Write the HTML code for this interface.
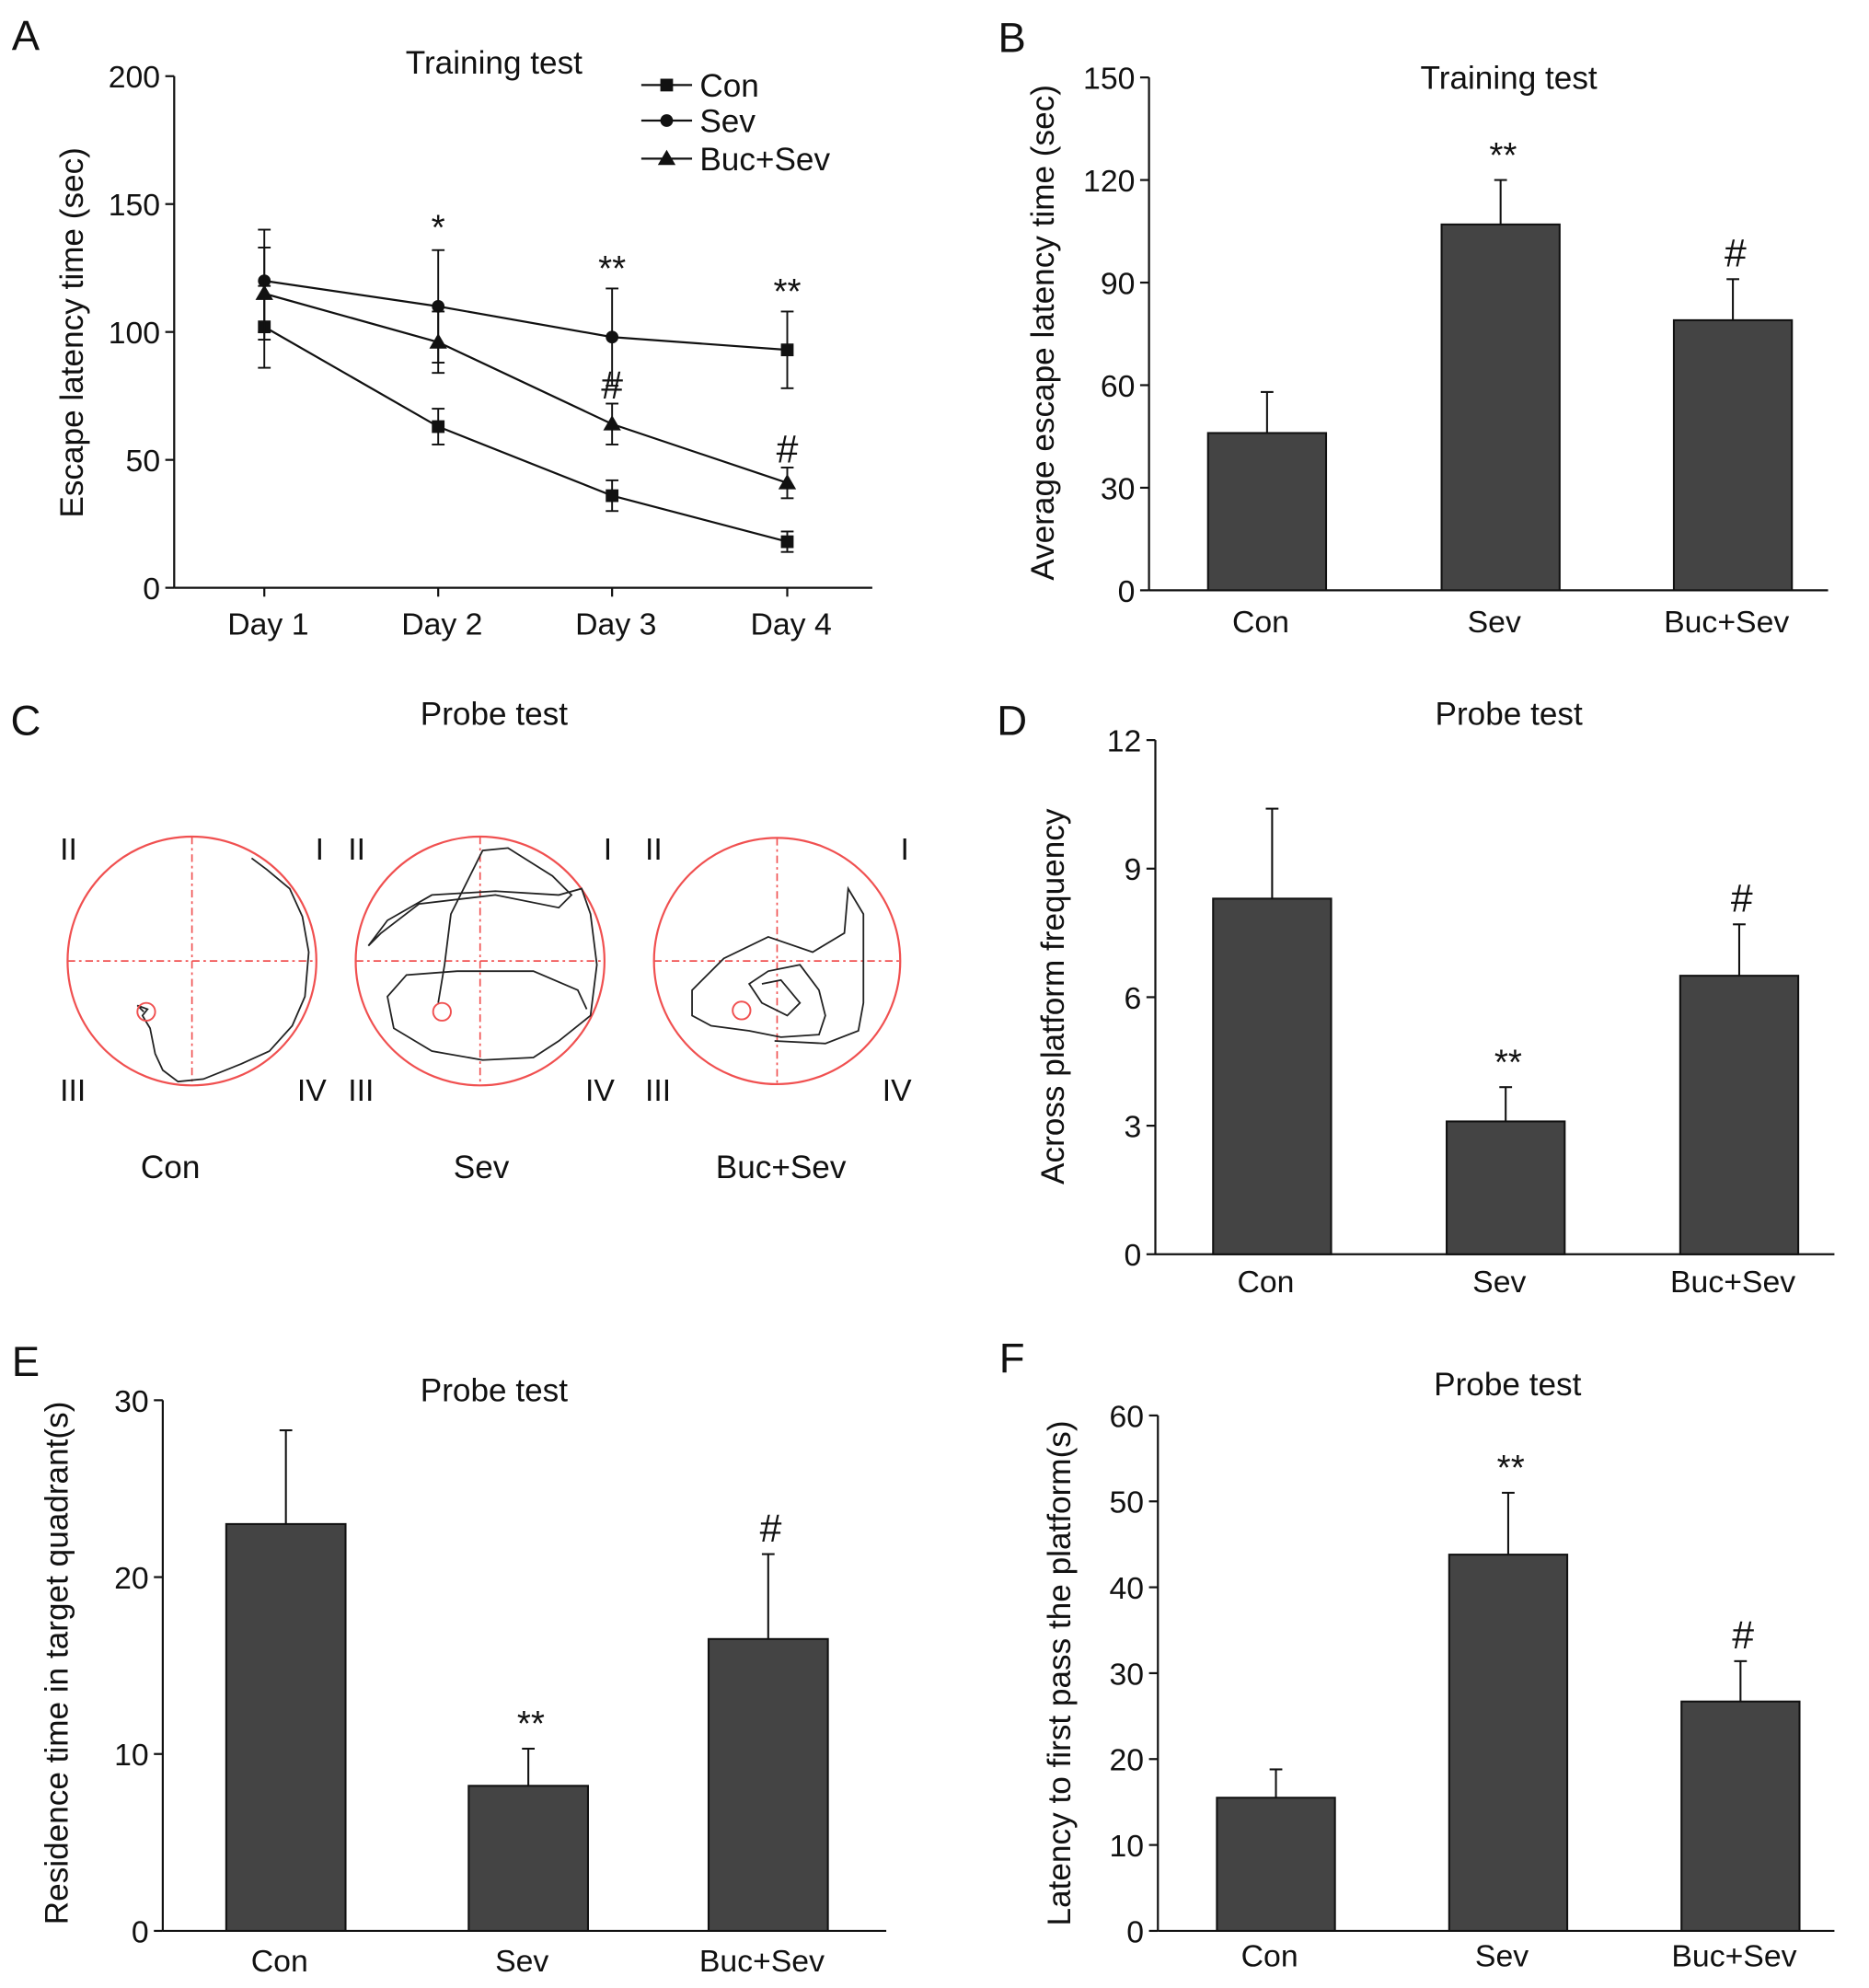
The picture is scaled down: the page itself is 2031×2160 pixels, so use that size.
<!DOCTYPE html>
<html><head><meta charset="utf-8"><style>
html,body{margin:0;padding:0;background:#fff}
svg{display:block;font-family:"Liberation Sans",Arial,sans-serif}
</style></head><body>
<svg id="fig" width="2031" height="2160" viewBox="0 0 1472 1566" xmlns="http://www.w3.org/2000/svg"></svg>
<script>
// ---- Panel A data ----
const daysA = ["Day 1","Day 2","Day 3","Day 4"];
const conA = [102, 63, 36, 18];
const conAErr = [16, 7, 6, 4];
const sevA = [120, 110, 98, 93];
const sevAErr = [20, 22, 19, 15];
const bucA = [115, 96, 64, 41];
const bucAErr = [18, 12, 8, 6];
const ticksA = [0, 50, 100, 150, 200];
// ---- Bar panels ----
const groups = ["Con","Sev","Buc+Sev"];
const valuesB = [46, 107, 79];
const errB = [58, 120, 91];
const ticksB = [0, 30, 60, 90, 120, 150];
const marksB = ["", "**", "#"];
const valuesD = [8.3, 3.1, 6.5];
const errD = [10.4, 3.9, 7.7];
const ticksD = [0, 3, 6, 9, 12];
const marksD = ["", "**", "#"];
const valuesE = [23, 8.2, 16.5];
const errE = [28.3, 10.3, 21.3];
const ticksE = [0, 10, 20, 30];
const marksE = ["", "**", "#"];
const valuesF = [15.5, 43.8, 26.7];
const errF = [18.8, 51, 31.4];
const ticksF = [0, 10, 20, 30, 40, 50, 60];
const marksF = ["", "**", "#"];

const NS = "http://www.w3.org/2000/svg";
const svg = document.getElementById("fig");
const FT = 24.5, FL = 25.5;
function mk(tag, attrs, parent, text){
  const e = document.createElementNS(NS, tag);
  for (const k in attrs) e.setAttribute(k, attrs[k]);
  if (text !== undefined) e.textContent = text;
  (parent || svg).appendChild(e);
  return e;
}
function txt(x,y,s,size,anchor,parent,rot){
  const t = mk("text",{x:x,y:y,"font-size":size,"text-anchor":anchor||"middle",fill:"#111"},parent,s);
  if (rot) t.setAttribute("transform","rotate(-90 "+x+" "+y+")");
  return t;
}
function grp(name){
  const g = mk("g",{});
  
  
  return g;
}

[["A",20,39],["B",797,41],["C",20,579],["D",797,579],["E",20,1084],["F",797,1081]].forEach(l=>{
  const t = txt(l[1],l[2],l[0],33,"middle");
  
  
});

// ---- Panel A ----
(function(){
  const g = grp("panel-a-line-chart");
  const x0=137,x1=687,yb=463,yt=60,max=200;
  const Y = v => yb - v/max*(yb-yt);
  const dx = [208,345,482,620];
  const X = i => dx[i];
  mk("line",{x1:x0,y1:yt,x2:x0,y2:yb,stroke:"#111","stroke-width":1.6},g);
  mk("line",{x1:x0,y1:yb,x2:x1,y2:yb,stroke:"#111","stroke-width":1.6},g);
  ticksA.forEach(v=>{
    mk("line",{x1:x0-7,y1:Y(v),x2:x0,y2:Y(v),stroke:"#111","stroke-width":1.6},g);
    const t=txt(x0-11,Y(v)+9,String(v),FT,"end",g);
    
    
  });
  daysA.forEach((d,i)=>{
    mk("line",{x1:X(i),y1:yb,x2:X(i),y2:yb+7,stroke:"#111","stroke-width":1.6},g);
    const t=txt(X(i)+3,500,d,FT,"middle",g);
    
    
  });
  const yl=txt(65,262,"Escape latency time (sec)",FL,"middle",g,true);
  
  
  const ti=txt(389,58,"Training test",FL,"middle",g);
  
  
  const series=[[conA,conAErr,["sq","sq","sq","sq"],"con"],[sevA,sevAErr,["ci","ci","ci","sq"],"sev"],[bucA,bucAErr,["tr","tr","tr","tr"],"buc-sev"]];
  series.forEach(s=>{
    const [vals,errs,mkrs,name]=s;
    const sg=mk("g",{},g);
    
    
    let d="";
    vals.forEach((v,i)=>{d+=(i?"L":"M")+X(i)+" "+Y(v)+" ";});
    mk("path",{d:d,fill:"none",stroke:"#111","stroke-width":1.6},sg);
    vals.forEach((v,i)=>{
      const x=X(i),y=Y(v),ye=Y(v+errs[i]),yl2=Y(v-errs[i]);
      mk("line",{x1:x,y1:ye,x2:x,y2:yl2,stroke:"#111","stroke-width":1.4},sg);
      mk("line",{x1:x-5,y1:ye,x2:x+5,y2:ye,stroke:"#111","stroke-width":1.4},sg);
      mk("line",{x1:x-5,y1:yl2,x2:x+5,y2:yl2,stroke:"#111","stroke-width":1.4},sg);
      const mkr=mkrs[i];
      let m;
      if(mkr==="sq") m=mk("rect",{x:x-5,y:y-5,width:10,height:10,fill:"#111"},sg);
      else if(mkr==="ci") m=mk("circle",{cx:x,cy:y,r:5,fill:"#111"},sg);
      else m=mk("path",{d:`M${x} ${y-7}L${x+7} ${y+5}L${x-7} ${y+5}Z`,fill:"#111"},sg);
      
      
    });
  });
  [[345,sevA[1]+sevAErr[1],"*",8],[482,sevA[2]+sevAErr[2],"**",6],[620,sevA[3]+sevAErr[3],"**",6],[482,bucA[2]+bucAErr[2],"#",4],[620,bucA[3]+bucAErr[3],"#",4]].forEach(a=>{
    const t=txt(a[0],Y(a[1])-a[3],a[2],a[2]==="#"?31:28,"middle",g);
    
    
  });
  const lg=mk("g",{},g);
  
  
  [["Con","sq",67],["Sev","ci",95],["Buc+Sev","tr",125]].forEach(l=>{
    const y=l[2];
    mk("line",{x1:505,y1:y,x2:545,y2:y,stroke:"#111","stroke-width":1.6},lg);
    if(l[1]==="sq") mk("rect",{x:520,y:y-5,width:10,height:10,fill:"#111"},lg);
    else if(l[1]==="ci") mk("circle",{cx:525,cy:y,r:5,fill:"#111"},lg);
    else mk("path",{d:`M525 ${y-7}L532 ${y+5}L518 ${y+5}Z`,fill:"#111"},lg);
    const t=txt(551,y+9,l[0],FL,"start",lg);
    
    
  });
})();

function barChart(name,cfg,vals,errs,ticks,marks){
  const g=grp(name);
  const {x0,x1,yb,yt,max,centers,bw,title,titleY,ylab,ylx,yly,xly}=cfg;
  const Y=v=>yb-v/max*(yb-yt);
  mk("line",{x1:x0,y1:yt,x2:x0,y2:yb,stroke:"#111","stroke-width":1.6},g);
  mk("line",{x1:x0,y1:yb,x2:x1,y2:yb,stroke:"#111","stroke-width":1.6},g);
  ticks.forEach(v=>{
    mk("line",{x1:x0-7,y1:Y(v),x2:x0,y2:Y(v),stroke:"#111","stroke-width":1.6},g);
    const t=txt(x0-11,Y(v)+9,String(v),FT,"end",g);
    
    
  });
  vals.forEach((v,i)=>{
    const c=centers[i];
    const b=mk("rect",{x:c-bw/2,y:Y(v),width:bw,height:yb-Y(v),fill:"#444",stroke:"#111","stroke-width":1.5},g);
    
    
    const ye=Y(errs[i]);
    mk("line",{x1:c,y1:Y(v),x2:c,y2:ye,stroke:"#111","stroke-width":1.5},g);
    mk("line",{x1:c-5,y1:ye,x2:c+5,y2:ye,stroke:"#111","stroke-width":1.5},g);
    if(marks[i]){
      const t=txt(c+2,ye-(marks[i]==="#"?10:10),marks[i],marks[i]==="#"?31:28,"middle",g);
      
      
    }
    const xl=txt(c-5,xly,groups[i],FT,"middle",g);
    
    
  });
  const tt=txt((x0+x1)/2+(cfg.tdx||0),titleY,title,FL,"middle",g);
  
  
  const yl=txt(ylx,yly,ylab,FL,"middle",g,true);
  
  
}
barChart("panel-b-bar-chart",{x0:905,x1:1440,yb:465,yt:61,max:150,centers:[998,1182,1365],bw:93,title:"Training test",titleY:70,tdx:16,ylab:"Average escape latency time (sec)",ylx:830,yly:262,xly:498},valuesB,errB,ticksB,marksB);
barChart("panel-d-bar-chart",{x0:910,x1:1445,yb:988,yt:583,max:12,centers:[1002,1186,1370],bw:93,title:"Probe test",titleY:571,tdx:11,ylab:"Across platform frequency",ylx:838,yly:785,xly:1018},valuesD,errD,ticksD,marksD);
barChart("panel-e-bar-chart",{x0:128,x1:698,yb:1521,yt:1103,max:30,centers:[225,416,605],bw:94,title:"Probe test",titleY:1104,tdx:-24,ylab:"Residence time in target quadrant(s)",ylx:53,yly:1310,xly:1553},valuesE,errE,ticksE,marksE);
barChart("panel-f-bar-chart",{x0:912,x1:1445,yb:1521,yt:1115,max:60,centers:[1005,1188,1371],bw:93,title:"Probe test",titleY:1099,tdx:9,ylab:"Latency to first pass the platform(s)",ylx:843,yly:1318,xly:1549},valuesF,errF,ticksF,marksF);

(function(){
  const g=grp("panel-c-probe-tracks");
  const ti=txt(389,571,"Probe test",FL,"middle",g);
  
  
  const pools=[
    {cx:151,cy:757,r:98,name:"Con",lx:134,tx:115,ty:797,
     path:"M113 797 L108 792 L116 795 L112 800 L118 810 L122 830 L128 843 L140 852 L160 850 L190 838 L212 828 L230 808 L240 785 L243 750 L238 722 L228 700 L210 685 L198 676"},
    {cx:378,cy:757,r:98,name:"Sev",lx:379,tx:348,ty:797,
     path:"M345 790 L350 760 L355 720 L370 690 L380 670 L400 668 L435 690 L450 705 L440 715 L390 705 L330 712 L300 735 L290 745 L305 725 L340 705 L390 702 L440 705 L458 700 L465 720 L470 760 L465 800 L440 820 L420 833 L380 835 L340 828 L310 810 L305 785 L320 768 L360 765 L420 765 L455 780 L462 795"},
    {cx:612,cy:757,r:97,name:"Buc+Sev",lx:615,tx:584,ty:796,
     path:"M600 775 L615 772 L630 790 L620 800 L600 790 L590 775 L605 765 L630 760 L645 780 L650 800 L645 815 L615 817 L590 812 L560 808 L545 800 L545 780 L570 755 L605 738 L640 750 L665 735 L668 700 L680 720 L680 790 L676 812 L650 822 L610 820"}
  ];
  const q=[["II",-98,-80,"start",-6],["I",94,-80,"end",10],["III",-98,110,"start",-6],["IV",94,110,"end",12]];
  pools.forEach(p=>{
    const pg=mk("g",{},g);
    
    
    mk("circle",{cx:p.cx,cy:p.cy,r:p.r,fill:"none",stroke:"#f05050","stroke-width":1.6},pg);
    mk("line",{x1:p.cx-p.r,y1:p.cy,x2:p.cx+p.r,y2:p.cy,stroke:"#f05050","stroke-width":1.2,"stroke-dasharray":"6 3 2 3"},pg);
    mk("line",{x1:p.cx,y1:p.cy-p.r,x2:p.cx,y2:p.cy+p.r,stroke:"#f05050","stroke-width":1.2,"stroke-dasharray":"6 3 2 3"},pg);
    mk("path",{d:p.path,fill:"none",stroke:"#222","stroke-width":1.3},pg);
    mk("circle",{cx:p.tx,cy:p.ty,r:7,fill:"none",stroke:"#f05050","stroke-width":1.4},pg);
    q.forEach(s=>{
      const t=txt(p.cx+s[1]+s[4],p.cy+s[2],s[0],FT,s[3],pg);
      
      
    });
    const l=txt(p.lx,928,p.name,FL,"middle",pg);
    
    
  });
})();
</script>
</body></html>
